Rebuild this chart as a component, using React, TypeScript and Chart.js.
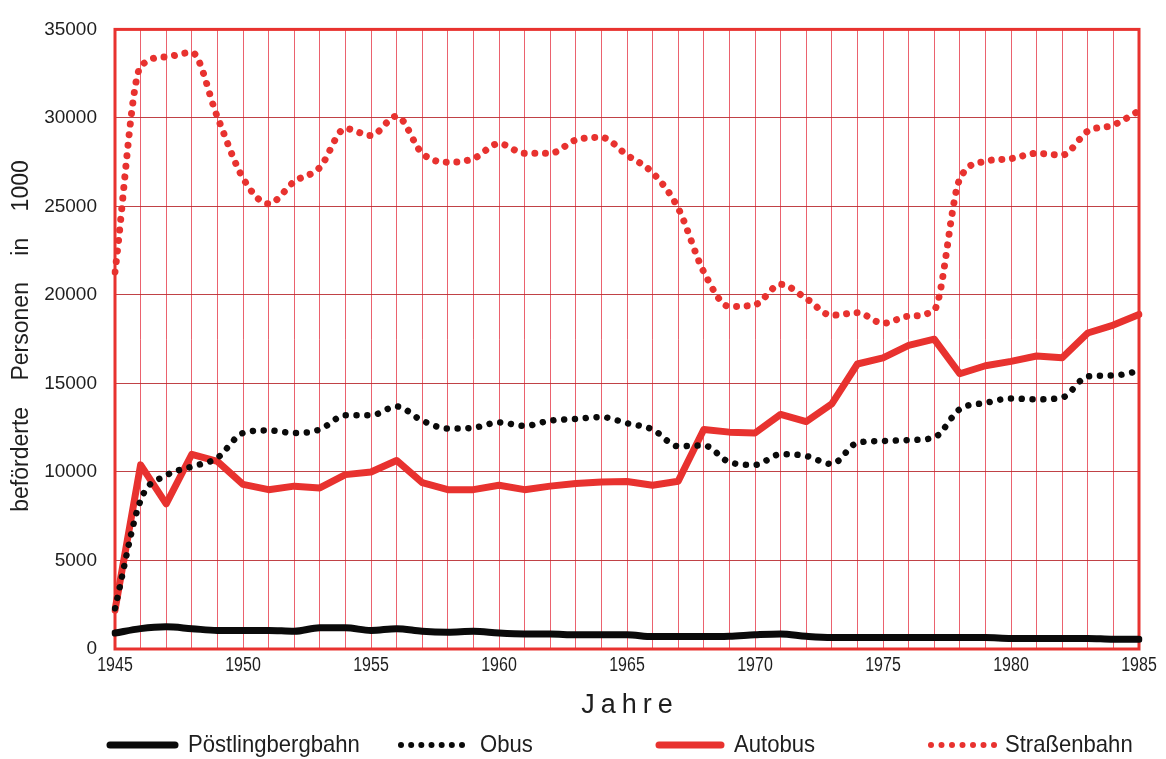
import React, { useEffect, useRef } from "react";
import { Chart, registerables } from "chart.js";

Chart.register(...registerables);

const years = [
  "1945", "1946", "1947", "1948", "1949", "1950", "1951", "1952", "1953", "1954",
  "1955", "1956", "1957", "1958", "1959", "1960", "1961", "1962", "1963", "1964",
  "1965", "1966", "1967", "1968", "1969", "1970", "1971", "1972", "1973", "1974",
  "1975", "1976", "1977", "1978", "1979", "1980", "1981", "1982", "1983", "1984",
  "1985",
];
const labeledYears = ["1945", "1950", "1955", "1960", "1965", "1970", "1975", "1980", "1985"];

const poestlingbergbahn = [
  900, 1150, 1250, 1150, 1050, 1050, 1050, 1000, 1200, 1200,
  1050, 1150, 1000, 950, 1000, 900, 850, 850, 800, 800,
  800, 700, 700, 700, 720, 800, 850, 720, 650, 650,
  650, 650, 650, 650, 650, 600, 600, 600, 600, 550,
  550,
];
const obus = [
  2300, 8400, 9800, 10300, 10800, 12200, 12350, 12200, 12400, 13200,
  13200, 13700, 12900, 12450, 12500, 12800, 12600, 12900, 13000, 13100,
  12750, 12400, 11450, 11500, 10550, 10400, 11000, 10900, 10450, 11650,
  11750, 11800, 11950, 13550, 13900, 14150, 14100, 14200, 15400, 15450,
  15700,
];
const autobus = [
  2200, 10400, 8200, 11000, 10600, 9300, 9000, 9200, 9100, 9850,
  10000, 10650, 9400, 9000, 9000, 9250, 9000, 9200, 9350, 9430,
  9460, 9250, 9480, 12400, 12250, 12200, 13250, 12850, 13850, 16100,
  16450, 17150, 17500, 15550, 16000, 16250, 16550, 16450, 17850, 18300,
  18900,
];
const strassenbahn = [
  21300, 32900, 33450, 33700, 30050, 26600, 25150, 26400, 27200, 29400,
  29000, 30100, 28000, 27500, 27700, 28550, 28000, 28000, 28750, 28900,
  27900, 26900, 24900, 21300, 19350, 19450, 20600, 19800, 18850, 19000,
  18400, 18800, 19150, 26550, 27550, 27700, 28000, 27900, 29250, 29600,
  30400,
];
const yMax = 35000;
const yStep = 5000;

const yAxisTitle = "beförderte Personen in 1000";
const xAxisTitle = "Jahre";
const seriesNames = ["Pöstlingbergbahn", "Obus", "Autobus", "Straßenbahn"];

const RED = "#e8322f";
const BLACK = "#0a0a0a";
const TEXT = "#1e1e1e";
const V_GRID = "rgba(232,70,85,0.85)";
const H_GRID = "rgba(185,45,50,0.9)";
const SANS = '"Liberation Sans", Arial, Helvetica, sans-serif';

const legendLayout = [
  { x0: 110, x1: 175, tx: 188 },
  { x0: 401, x1: 462, tx: 480 },
  { x0: 659, x1: 721, tx: 734 },
  { x0: 931, x1: 994, tx: 1005 },
];

function drawScaledText(
  ctx: CanvasRenderingContext2D,
  text: string,
  x: number,
  y: number,
  font: string,
  align: CanvasTextAlign,
  sx: number
) {
  ctx.save();
  ctx.font = font;
  ctx.fillStyle = TEXT;
  ctx.textAlign = align;
  ctx.textBaseline = "middle";
  ctx.translate(x, y);
  ctx.scale(sx, 1);
  ctx.fillText(text, 0, 0);
  ctx.restore();
}

const decorPlugin = {
  id: "decor",
  beforeDatasetsDraw(chart: any) {
    const { ctx, chartArea: a } = chart;
    ctx.save();
    ctx.strokeStyle = RED;
    ctx.lineWidth = 3;
    ctx.strokeRect(a.left, a.top, a.right - a.left, a.bottom - a.top);
    ctx.restore();
  },
  afterDraw(chart: any) {
    const { ctx, chartArea: a } = chart;
    const xs = chart.scales.x;

    // x tick labels (condensed like the original)
    years.forEach((yr, i) => {
      if (!labeledYears.includes(yr)) return;
      drawScaledText(ctx, yr, xs.getPixelForValue(i), 665, `20px ${SANS}`, "center", 0.8);
    });

    // y axis title
    ctx.save();
    ctx.fillStyle = TEXT;
    ctx.font = `23px ${SANS}`;
    (ctx as any).wordSpacing = "20px";
    ctx.textAlign = "center";
    ctx.textBaseline = "middle";
    ctx.translate(22, 336);
    ctx.rotate(-Math.PI / 2);
    ctx.fillText(yAxisTitle, 0, 0);
    ctx.restore();

    // x axis title
    ctx.save();
    ctx.fillStyle = TEXT;
    ctx.font = `27px ${SANS}`;
    (ctx as any).letterSpacing = "6px";
    ctx.textAlign = "center";
    ctx.textBaseline = "middle";
    ctx.fillText(xAxisTitle, (a.left + a.right) / 2 + 3, 706);
    ctx.restore();

    // legend
    const ly = 745;
    chart.data.datasets.forEach((ds: any) => {
      const L = legendLayout[ds.legendIndex];
      ctx.save();
      if (ds.dotted) {
        ctx.fillStyle = ds.borderColor;
        const n = 7;
        for (let k = 0; k < n; k++) {
          const x = L.x0 + ((L.x1 - L.x0) * k) / (n - 1);
          ctx.beginPath();
          ctx.arc(x, ly, 3, 0, Math.PI * 2);
          ctx.fill();
        }
      } else {
        ctx.strokeStyle = ds.borderColor;
        ctx.lineWidth = 7;
        ctx.lineCap = "round";
        ctx.beginPath();
        ctx.moveTo(L.x0, ly);
        ctx.lineTo(L.x1, ly);
        ctx.stroke();
      }
      ctx.restore();
      drawScaledText(ctx, ds.label, L.tx, ly, `24px ${SANS}`, "left", 0.92);
    });
  },
};

export default function App() {
  const ref = useRef<HTMLCanvasElement | null>(null);

  useEffect(() => {
    if (!ref.current) return;
    const chart = new Chart(ref.current, {
      type: "line",
      data: {
        labels: years,
        datasets: [
          {
            label: seriesNames[0],
            data: poestlingbergbahn,
            borderColor: BLACK,
            borderWidth: 7,
            pointRadius: 0,
            tension: 0.4,
            cubicInterpolationMode: "monotone",
            borderCapStyle: "round",
            borderJoinStyle: "round",
            order: 1,
            legendIndex: 0,
            dotted: false,
          } as any,
          {
            label: seriesNames[1],
            data: obus,
            borderColor: BLACK,
            borderWidth: 6.5,
            borderDash: [0.01, 10.8],
            borderCapStyle: "round",
            pointRadius: 0,
            cubicInterpolationMode: "monotone",
            order: 0,
            legendIndex: 1,
            dotted: true,
          } as any,
          {
            label: seriesNames[2],
            data: autobus,
            borderColor: RED,
            borderWidth: 7,
            pointRadius: 0,
            tension: 0,
            borderJoinStyle: "round",
            borderCapStyle: "round",
            order: 2,
            legendIndex: 2,
            dotted: false,
          } as any,
          {
            label: seriesNames[3],
            data: strassenbahn,
            borderColor: RED,
            borderWidth: 7,
            borderDash: [0.01, 10.6],
            borderCapStyle: "round",
            pointRadius: 0,
            cubicInterpolationMode: "monotone",
            order: 3,
            legendIndex: 3,
            dotted: true,
          } as any,
        ],
      },
      options: {
        animation: false,
        responsive: false,
        devicePixelRatio: 1,
        layout: { padding: { left: 0, right: 27, top: 19, bottom: 0 } },
        plugins: {
          legend: { display: false },
          tooltip: { enabled: false },
        },
        scales: {
          x: {
            type: "category",
            offset: false,
            grid: {
              display: true,
              drawTicks: false,
              color: V_GRID,
              lineWidth: 1,
            },
            border: { display: false },
            ticks: {
              display: false,
              autoSkip: false,
              maxRotation: 0,
            },
            afterFit: (s: any) => {
              s.height = 110;
            },
          },
          y: {
            min: 0,
            max: yMax,
            grid: {
              display: true,
              drawTicks: false,
              color: H_GRID,
              lineWidth: 1,
            },
            border: { display: false },
            ticks: {
              stepSize: yStep,
              padding: 18,
              color: TEXT,
              font: { family: SANS, size: 19 },
              callback: (v: any) => String(v),
            },
            afterFit: (s: any) => {
              s.width = 115;
            },
          },
        },
      },
      plugins: [decorPlugin],
    });
    return () => chart.destroy();
  }, []);

  return (
    <div style={{ position: "fixed", left: 0, top: 0, width: 1166, height: 759, background: "#fff" }}>
      <canvas ref={ref} width={1166} height={759} style={{ display: "block", width: 1166, height: 759 }} />
    </div>
  );
}
